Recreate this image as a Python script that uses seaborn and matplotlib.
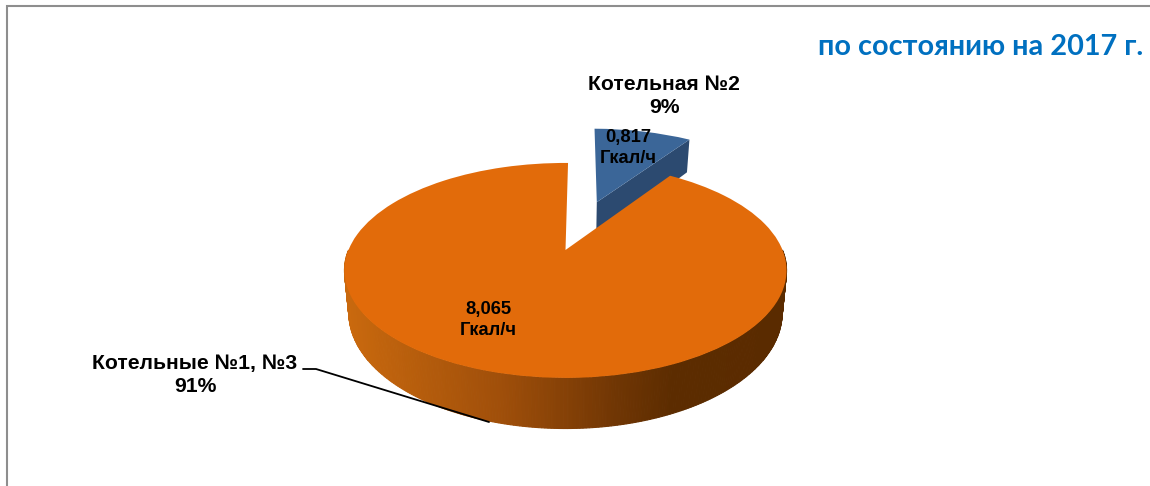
import numpy as np
import matplotlib
matplotlib.use("Agg")
import matplotlib.pyplot as plt
from matplotlib.transforms import Transform
from matplotlib.colors import LinearSegmentedColormap
import seaborn as sns

# --- data ---
sources = ["Котельная №2", "Котельные №1, №3"]
capacity = [0.817, 8.065]
capacity_labels = ["0,817\nГкал/ч", "8,065\nГкал/ч"]
shares = ["9%", "91%"]
title = "по состоянию на 2017 г."

# --- style ---
sns.set_theme(style="white")
plt.rcParams["font.family"] = ["Liberation Sans", "DejaVu Sans"]
top_colors = sns.color_palette(["#3B6698", "#E26B0A"])
blue_side = "#2C4A70"
orange_side = LinearSegmentedColormap.from_list(
    "side", [(0.0, "#C9690E"), (0.35, "#A04F0A"), (0.62, "#703604"), (0.75, "#5C2C00"), (1.0, "#5A2B00")])

# --- projection of the tilted pie ---
CX, CY, RX, RY, K, DEPTH, SHRINK = 565.5, 250, 217, 103.6, 0.19, 41, 0.02


def project(xy, z=0.0):
    u, v = xy[:, 0], xy[:, 1]
    w = 1 + K * v
    return np.column_stack([CX + RX * u * (1 - SHRINK * z) / w, CY - (RY * v - DEPTH * z) / w])


class Tilt(Transform):
    input_dims = output_dims = 2
    is_separable = False
    has_inverse = False

    def transform_non_affine(self, values):
        return project(np.asarray(values, float))


fig = plt.figure(figsize=(11.5, 4.86), dpi=100, facecolor="white")
ax = fig.add_axes([0, 0, 1, 1])

wedges, _ = ax.pie(capacity, explode=[0.53, 0], startangle=89.2, counterclock=False,
                   colors=top_colors, radius=1, wedgeprops=dict(linewidth=0))
ax.set_aspect("auto")
ax.set_xlim(0, 1150)
ax.set_ylim(486, 0)
ax.axis("off")

tilt = Tilt()
for i, w in enumerate(wedges):
    w.set_transform(tilt + ax.transData)
    w.set_zorder(3 if i == 0 else 6)
    w.set_clip_on(False)

# blue slice: the cut face turned towards the viewer
bw = wedges[0]
c = np.array(bw.center)
corner = c + bw.r * np.array([np.cos(np.radians(bw.theta1)), np.sin(np.radians(bw.theta1))])
edge = np.vstack([c, corner])
poly = np.vstack([project(edge, 0), project(edge[::-1], 1)])
ax.fill(poly[:, 0], poly[:, 1], color=blue_side, lw=0, zorder=2)

# orange slice: rim with a left-to-right shade
ow = wedges[1]
angles = np.radians(np.linspace(max(ow.theta1, -180), min(ow.theta2, 0), 260))
rim = np.column_stack([np.cos(angles), np.sin(angles)]) * ow.r + np.array(ow.center)
top_rim, low_rim = project(rim, 0), project(rim, 1)
xmin, xmax = low_rim[:, 0].min(), low_rim[:, 0].max()
for j in range(len(rim) - 1):
    q = np.vstack([top_rim[j:j + 2], low_rim[j:j + 2][::-1]])
    col = orange_side((q[:, 0].mean() - xmin) / (xmax - xmin))
    ax.fill(q[:, 0], q[:, 1], facecolor=col, edgecolor=col, lw=0.8, zorder=4)

# frame left from the source picture
ax.plot([6.5, 6.5, 1150], [486, 6, 6], color="#8E8E8E", lw=1.5, solid_joinstyle="miter", zorder=1)

# leader line
ax.plot([303, 316, 489], [369, 369, 422], color="black", lw=1.3, zorder=8)

# texts
lab = dict(ha="center", va="center", fontweight="bold", color="black", zorder=9)
ax.text(664, 96, f"{sources[0]}\n{shares[0]}", fontsize=15.2, linespacing=1.33, **lab)
ax.text(195, 375, f"{sources[1]}\n{shares[1]}", fontsize=15.2, linespacing=1.3, **lab)
ax.text(628, 148, capacity_labels[0], fontsize=13.2, linespacing=1.24, **lab)
ax.text(488, 320, capacity_labels[1], fontsize=13.2, linespacing=1.33, **lab)
ax.text(1143, 47, title, ha="right", va="center", fontsize=20.8, fontweight="bold",
        color="#0070C0", family=["Lato", "DejaVu Sans"], zorder=9)

fig.savefig("out.png", dpi=100, facecolor="white")
